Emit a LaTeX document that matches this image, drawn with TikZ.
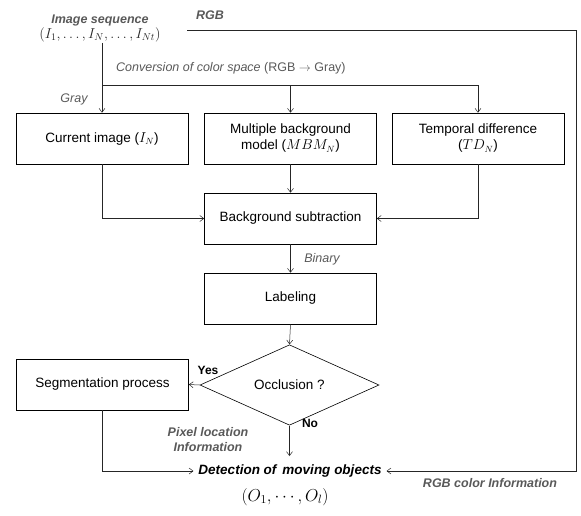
\documentclass[tikz,border=0pt]{standalone}
\usepackage{fontspec}
\setmainfont{Liberation Sans}
\usetikzlibrary{arrows.meta,shapes.geometric,calc}
\begin{document}
\begin{tikzpicture}[x=1pt,y=-1pt,
  box/.style={draw, line width=0.6pt, minimum width=172pt, minimum height=51pt,
    inner sep=0pt, align=center, font=\fontsize{13.5}{16}\selectfont},
  decision/.style={draw, line width=0.6pt, diamond, minimum width=179pt, minimum height=56pt,
    inner sep=0pt, font=\fontsize{13.5}{16}\selectfont},
  arr/.style={draw=black!85, line width=0.5pt, -{Straight Barb[length=4pt,width=6pt]}},
  ln/.style={draw=black!85, line width=0.5pt},
  lbl/.style={text=black!65, font=\fontsize{12.5}{15}\selectfont\itshape, inner sep=1pt},
  blbl/.style={text=black!65, font=\fontsize{12.5}{15}\selectfont\bfseries\itshape, inner sep=1pt, align=center},
  yn/.style={font=\fontsize{12}{14}\selectfont\bfseries, inner sep=1pt}]
\useasboundingbox (0,0) rectangle (581,515);

% processing boxes
\node[box] (cur) at (102,138.5) {Current image ($I_N$)};
\node[box] (mbm) at (290.5,138.5) {Multiple background\\model ($MBM_N$)};
\node[box] (td)  at (478,138.5) {Temporal difference\\($TD_N$)};
\node[box] (bs)  at (290.5,218.5) {Background subtraction};
\node[box] (lab) at (290.5,298.5) {Labeling};
\node[decision] (occ) at (289.5,385) {Occlusion ?};
\node[box] (seg) at (102.5,384.5) {Segmentation process};

% input and output texts
\node[blbl] (seq) at (100,28) {Image sequence\\[0pt]{\color{black!85}\fontsize{14}{16}\selectfont$(I_1,\ldots,I_N,\ldots,I_{Nt})$}};
\node[blbl] (rgb) at (210,15) {RGB};
\node[font=\fontsize{13.5}{16}\selectfont\bfseries\itshape, outer xsep=4pt, inner sep=1pt] (det) at (290,471) {Detection of\, moving objects};
\node[font=\fontsize{18}{20}\selectfont, inner sep=1pt] (obj) at (285,497) {$\left(O_1,\cdots,O_l\right)$};

% connector labels
\node[lbl, anchor=west] (conv) at (115,68) {Conversion of color space \upshape(RGB $\rightarrow$ Gray)};
\node[lbl] (gray) at (74,99) {Gray};
\node[lbl] (bin) at (322,259) {Binary};
\node[yn] (yes) at (208,370) {Yes};
\node[yn] (no) at (310,423) {No};
\node[blbl] (pix) at (208,440) {Pixel location\\Information};
\node[blbl] (rgbi) at (490,483) {RGB color Information};

% gray-scale conversion branches
\coordinate (split) at (cur.north |- 0,85);
\draw[arr] (cur.north |- seq.south) -- (cur.north);
\draw[ln] (split) -- (split -| td.north);
\draw[arr] (split -| mbm.north) -- (mbm.north);
\draw[arr] (split -| td.north) -- (td.north);

% colour information path
\coordinate (rgb0) at (187,30);
\coordinate (rgbR) at (576,30);
\draw[arr] (rgb0) -- (rgbR) |- (det.east);

% main flow
\draw[arr] (cur.south) |- (bs.west);
\draw[arr] (mbm.south) -- (bs.north);
\draw[arr] (td.south) |- (bs.east);
\draw[arr] (bs.south) -- (lab.north);
\draw[arr] (lab.south) -- (occ.north);
\draw[arr] (occ.west) -- (seg.east);
\draw[arr] (occ.south) -- (occ.south |- 0,456);
\draw[arr] (seg.south) |- (det.west);
\end{tikzpicture}
\end{document}
